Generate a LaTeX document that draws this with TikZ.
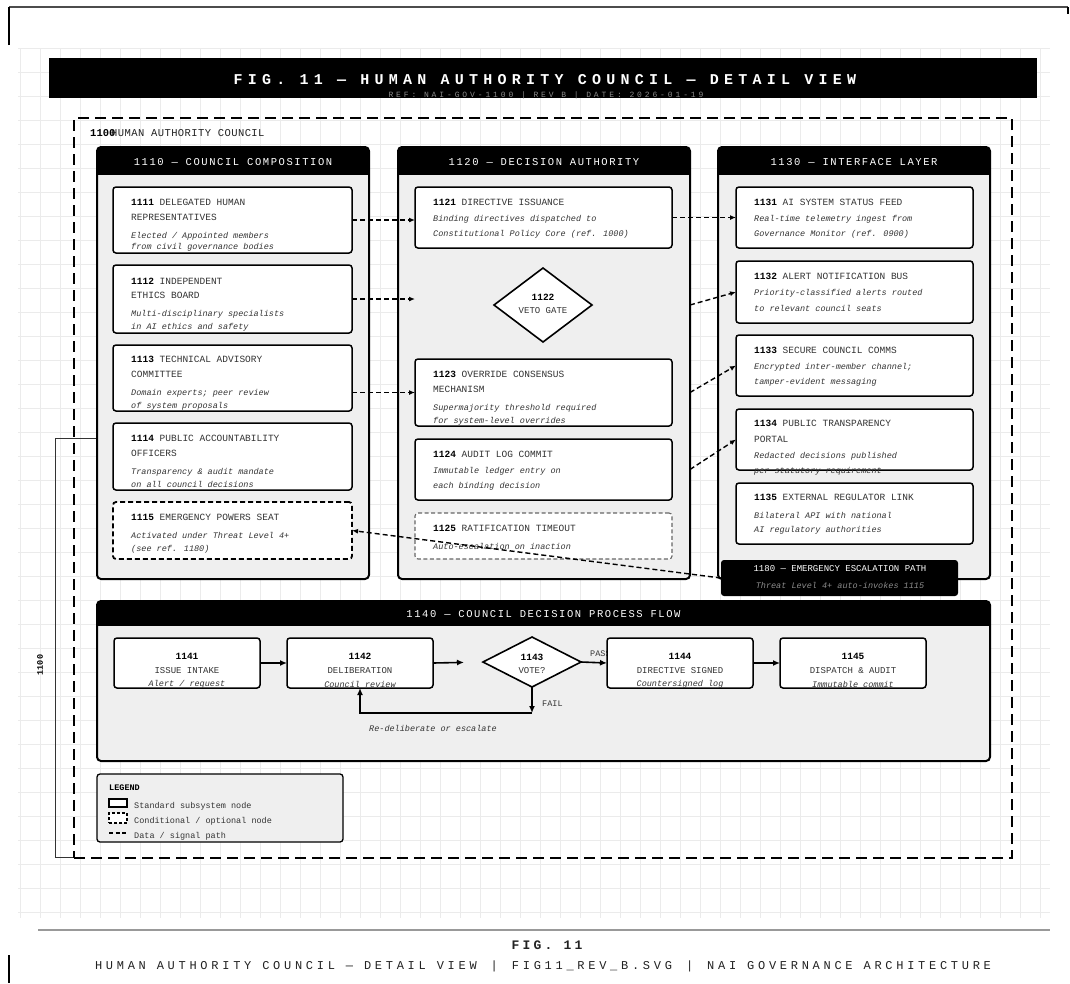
\documentclass[tikz,border=0pt]{standalone}
\usepackage{fontspec}
\setmainfont{Liberation Mono}
\newfontfamily\hdrfont[LetterSpace=15]{Liberation Mono}
\newfontfamily\titlefont[LetterSpace=35]{Liberation Mono}
\newfontfamily\subfont[LetterSpace=36]{Liberation Mono}
\newfontfamily\footfont[LetterSpace=31]{Liberation Mono}
\newfontfamily\figfont[LetterSpace=25]{Liberation Mono}
\newfontfamily\lblfont[LetterSpace=4]{Liberation Mono}
\usetikzlibrary{arrows.meta,shapes.geometric,calc}

\definecolor{panelfill}{HTML}{EFEFEF}
\definecolor{gridc}{HTML}{EBEBEB}
\definecolor{inkA}{HTML}{222222}
\definecolor{inkB}{HTML}{333333}
\definecolor{subgray}{HTML}{8A8A8A}

% box helper: style, name, x1, y1, x2, y2
\newcommand\ubox[6]{\node[#1, minimum width={(#5-#3)*1pt}, minimum height={(#6-#4)*1pt}] (#2) at ({(#3+#5)/2},{(#4+#6)/2}) {};}
% panel helper: name, x1, y1, x2, y2, header bottom, header text
\newcommand\panel[7]{%
  \node[panelbox, minimum width={(#4-#2)*1pt}, minimum height={(#5-#3)*1pt}] (#1) at ({(#2+#4)/2},{(#3+#5)/2}) {};
  \begin{scope}
    \clip[rounded corners=4pt] (#2,#3) rectangle (#4,#5);
    \fill[black] (#2,#3) rectangle (#4,#6);
  \end{scope}
  \draw[line width=2pt, rounded corners=4pt] (#1.north west) rectangle (#1.south east);
  \node[panelhead] (#1h) at ({(#2+#4)/2},{(#3+#6)/2+1}) {#7};
}

\begin{document}
\begin{tikzpicture}[x=1pt,y=-1pt,
  panelbox/.style={fill=panelfill, inner sep=0, outer sep=0, rounded corners=4pt},
  panelhead/.style={text=white, inner sep=0, font=\hdrfont\fontsize{10.5}{12}\selectfont},
  unit/.style={draw=black, fill=white, line width=1.5pt, rounded corners=3pt, inner sep=0, outer sep=0},
  cond/.style={draw=black, fill=white, line width=1.8pt, dash pattern=on 5pt off 3pt, rounded corners=3pt, inner sep=0, outer sep=0},
  condlite/.style={draw=black!60, fill=white, line width=1.1pt, dash pattern=on 4pt off 2.5pt, rounded corners=3pt, inner sep=0, outer sep=0},
  gate/.style={diamond, draw=black, fill=white, line width=1.6pt, inner sep=0, outer sep=0},
  ttl/.style={anchor=west, inner sep=0, text=inkB, font=\fontsize{9.5}{11}\selectfont},
  note/.style={anchor=west, inner sep=0, text=inkB, font=\itshape\fontsize{8.5}{10}\selectfont},
  ctr/.style={inner sep=0, text=inkB, font=\fontsize{9}{11}\selectfont},
  ctrnum/.style={inner sep=0, text=black, font=\bfseries\fontsize{9.5}{11}\selectfont},
  ctrnote/.style={inner sep=0, text=inkB, font=\itshape\fontsize{8.5}{10}\selectfont},
  sig/.style={line width=1.4pt, dash pattern=on 5pt off 3pt, -{Latex[length=6pt,width=5pt]}},
  flow/.style={line width=1.6pt, -{Latex[length=7pt,width=6pt]}},
  gridline/.style={draw=gridc, line width=0.6pt}
]
\useasboundingbox (0,0) rectangle (1070,983);
\fill[white] (0,0) rectangle (1070,983);

% sheet frame remnants
\draw[black!70, line width=2pt] (9,7) -- (1068,7);
\draw[black, line width=2.5pt] (9,45) -- (9,7);
\draw[black, line width=2.5pt] (1068,7) -- (1068,14);
\draw[black, line width=2.5pt] (9,955) -- (9,983);

% drafting grid
\foreach \gx in {20,40,...,1040} \draw[gridline] (\gx,48) -- (\gx,918);
\foreach \gy in {48,72,...,912} \draw[gridline] (18,\gy) -- (1050,\gy);

% title block
\node[fill=black, inner sep=0, minimum width=988pt, minimum height=40pt] (titlebar) at (543,78) {};
\node[text=white, inner sep=0, font=\titlefont\bfseries\fontsize{15}{17}\selectfont] (title) at (545,80) {FIG. 11 — HUMAN AUTHORITY COUNCIL — DETAIL VIEW};
\node[text=subgray, inner sep=0, font=\subfont\fontsize{8}{9}\selectfont] (subtitle) at (546,95) {REF: NAI-GOV-1100 | REV B | DATE: 2026-01-19};

% 1100 enclosure
\node[draw=black, line width=2.8pt, dash pattern=on 11pt off 6pt, inner sep=0, minimum width=938pt, minimum height=740pt] (outer) at (543,488) {};
\node[anchor=west, inner sep=0, font=\bfseries\fontsize{10.5}{12}\selectfont] (outernum) at (90,133) {1100};
\node[anchor=west, inner sep=0, text=inkA, font=\lblfont\fontsize{10.5}{12}\selectfont] (outerlbl) at (111,133) {HUMAN AUTHORITY COUNCIL};

% side bracket
\coordinate (brtop) at (97,438);
\coordinate (brA) at (55,438);
\coordinate (brB) at (55,857);
\draw[black!80, line width=1pt] (brtop) -- (brA) -- (brB) -- (outer.south west |- brB);
\node[rotate=90, inner sep=0, font=\bfseries\fontsize{8.5}{10}\selectfont] (sidelbl) at (40,665) {1100};

% ---- 1110 council composition
\panel{p1110}{97}{147}{369}{579}{175}{1110 — COUNCIL COMPOSITION}
\ubox{unit}{b1111}{113}{187}{352}{253}
\node[ttl] (t1111a) at (131,202) {\textcolor{black}{\bfseries 1111} DELEGATED HUMAN};
\node[ttl] (t1111b) at (131,217) {REPRESENTATIVES};
\node[note] (n1111a) at (131,236) {Elected / Appointed members};
\node[note] (n1111b) at (131,247) {from civil governance bodies};

\ubox{unit}{b1112}{113}{265}{352}{333}
\node[ttl] (t1112a) at (131,281) {\textcolor{black}{\bfseries 1112} INDEPENDENT};
\node[ttl] (t1112b) at (131,295) {ETHICS BOARD};
\node[note] (n1112a) at (131,314) {Multi-disciplinary specialists};
\node[note] (n1112b) at (131,327) {in AI ethics and safety};

\ubox{unit}{b1113}{113}{345}{352}{411}
\node[ttl] (t1113a) at (131,359) {\textcolor{black}{\bfseries 1113} TECHNICAL ADVISORY};
\node[ttl] (t1113b) at (131,374) {COMMITTEE};
\node[note] (n1113a) at (131,393) {Domain experts; peer review};
\node[note] (n1113b) at (131,406) {of system proposals};

\ubox{unit}{b1114}{113}{423}{352}{490}
\node[ttl] (t1114a) at (131,438) {\textcolor{black}{\bfseries 1114} PUBLIC ACCOUNTABILITY};
\node[ttl] (t1114b) at (131,453) {OFFICERS};
\node[note] (n1114a) at (131,472) {Transparency \& audit mandate};
\node[note] (n1114b) at (131,484) {on all council decisions};

\ubox{cond}{b1115}{113}{502}{352}{559}
\node[ttl] (t1115a) at (131,517) {\textcolor{black}{\bfseries 1115} EMERGENCY POWERS SEAT};
\node[note] (n1115a) at (131,535) {Activated under Threat Level 4+};
\node[note] (n1115b) at (131,549) {(see ref. 1180)};

% ---- 1120 decision authority
\panel{p1120}{398}{147}{690}{579}{175}{1120 — DECISION AUTHORITY}
\ubox{unit}{b1121}{415}{187}{672}{248}
\node[ttl] (t1121a) at (433,202) {\textcolor{black}{\bfseries 1121} DIRECTIVE ISSUANCE};
\node[note] (n1121a) at (433,219) {Binding directives dispatched to};
\node[note] (n1121b) at (433,234) {Constitutional Policy Core (ref. 1000)};

\node[gate, minimum width=98pt, minimum height=74pt] (d1122) at (543,305) {};
\node[ctrnum] (t1122a) at (543,297) {1122};
\node[ctr] (t1122b) at (543,311) {VETO GATE};

\ubox{unit}{b1123}{415}{359}{672}{426}
\node[ttl] (t1123a) at (433,374) {\textcolor{black}{\bfseries 1123} OVERRIDE CONSENSUS};
\node[ttl] (t1123b) at (433,389) {MECHANISM};
\node[note] (n1123a) at (433,408) {Supermajority threshold required};
\node[note] (n1123b) at (433,421) {for system-level overrides};

\ubox{unit}{b1124}{415}{439}{672}{500}
\node[ttl] (t1124a) at (433,454) {\textcolor{black}{\bfseries 1124} AUDIT LOG COMMIT};
\node[note] (n1124a) at (433,471) {Immutable ledger entry on};
\node[note] (n1124b) at (433,486) {each binding decision};

\ubox{condlite}{b1125}{415}{513}{672}{559}
\node[ttl] (t1125a) at (433,528) {\textcolor{black}{\bfseries 1125} RATIFICATION TIMEOUT};
\node[note] (n1125a) at (433,546) {Auto-escalation on inaction};

% ---- 1130 interface layer
\panel{p1130}{718}{147}{990}{579}{175}{1130 — INTERFACE LAYER}
\ubox{unit}{b1131}{736}{187}{973}{248}
\node[ttl] (t1131a) at (754,202) {\textcolor{black}{\bfseries 1131} AI SYSTEM STATUS FEED};
\node[note] (n1131a) at (754,219) {Real-time telemetry ingest from};
\node[note] (n1131b) at (754,234) {Governance Monitor (ref. 0900)};

\ubox{unit}{b1132}{736}{261}{973}{323}
\node[ttl] (t1132a) at (754,276) {\textcolor{black}{\bfseries 1132} ALERT NOTIFICATION BUS};
\node[note] (n1132a) at (754,293) {Priority-classified alerts routed};
\node[note] (n1132b) at (754,308) {to relevant council seats};

\ubox{unit}{b1133}{736}{335}{973}{396}
\node[ttl] (t1133a) at (754,350) {\textcolor{black}{\bfseries 1133} SECURE COUNCIL COMMS};
\node[note] (n1133a) at (754,367) {Encrypted inter-member channel;};
\node[note] (n1133b) at (754,382) {tamper-evident messaging};

\ubox{unit}{b1134}{736}{409}{973}{470}
\node[ttl] (t1134a) at (754,423) {\textcolor{black}{\bfseries 1134} PUBLIC TRANSPARENCY};
\node[ttl] (t1134b) at (754,439) {PORTAL};
\node[note] (n1134a) at (754,456) {Redacted decisions published};
\node[note] (n1134b) at (754,471) {per statutory requirement};

\ubox{unit}{b1135}{736}{483}{973}{544}
\node[ttl] (t1135a) at (754,497) {\textcolor{black}{\bfseries 1135} EXTERNAL REGULATOR LINK};
\node[note] (n1135a) at (754,515) {Bilateral API with national};
\node[note] (n1135b) at (754,530) {AI regulatory authorities};

% 1180 escalation tag
\node[fill=black, rounded corners=3pt, inner sep=0, minimum width=237pt, minimum height=36pt] (b1180) at (839.5,578) {};
\node[inner sep=0, text=white, font=\fontsize{9}{11}\selectfont] (t1180a) at (840,569) {1180 — EMERGENCY ESCALATION PATH};
\node[inner sep=0, text=black!45, font=\itshape\fontsize{8.5}{10}\selectfont] (t1180b) at (840,585) {Threat Level 4+ auto-invokes 1115};

% ---- data / signal paths
\draw[sig] (b1111.east) -- (b1121.west |- b1111.east);
\draw[sig, shorten >=79pt] (b1112.east) -- (b1112.east -| d1122.west);
\draw[sig] (b1113.east |- b1123.west) -- (b1123.west);
\draw[sig] (b1121.east) -- (b1131.west);
\draw[sig] (p1120.east |- d1122) -- (b1132.west);
\draw[sig] (p1120.east |- b1123) -- (b1133.west);
\draw[sig] (p1120.east |- b1124) -- (b1134.west);
\draw[sig] (b1180.west) -- (b1115.east);

% ---- 1140 process flow
\panel{p1140}{97}{601}{990}{761}{626}{1140 — COUNCIL DECISION PROCESS FLOW}

\ubox{unit}{b1141}{114}{638}{260}{688}
\node[ctrnum] (t1141a) at (187,656) {1141};
\node[ctr] (t1141b) at (187,671) {ISSUE INTAKE};
\node[ctrnote] (n1141) at (187,684) {Alert / request};

\ubox{unit}{b1142}{287}{638}{433}{688}
\node[ctrnum] (t1142a) at (360,656) {1142};
\node[ctr] (t1142b) at (360,671) {DELIBERATION};
\node[ctrnote] (n1142) at (360,684) {Council review};

\node[gate, minimum width=98pt, minimum height=50pt] (d1143) at (532,662) {};
\node[ctrnum] (t1143a) at (532,657) {1143};
\node[ctr] (t1143b) at (532,671) {VOTE?};

\node[anchor=west, inner sep=0, text=inkB, font=\fontsize{8.5}{10}\selectfont] (pass) at (590,654) {PASS};

\ubox{unit}{b1144}{607}{638}{753}{688}
\node[ctrnum] (t1144a) at (680,656) {1144};
\node[ctr] (t1144b) at (680,671) {DIRECTIVE SIGNED};
\node[ctrnote] (n1144) at (680,684) {Countersigned log};

\ubox{unit}{b1145}{780}{638}{926}{688}
\node[ctrnum] (t1145a) at (853,656) {1145};
\node[ctr] (t1145b) at (853,671) {DISPATCH \& AUDIT};
\node[ctrnote] (n1145) at (853,684) {Immutable commit};

\draw[flow] (b1141.east) -- (b1142.west);
\draw[flow, shorten >=19pt] (b1142.east) -- (d1143.west);
\draw[flow] (d1143.east) -- (b1144.west);
\draw[flow] (b1144.east) -- (b1145.west);
\coordinate (failpt) at (532,713);
\draw[flow] (d1143.south) -- (failpt);
\draw[flow] (failpt) -| (b1142.south);
\node[anchor=west, inner sep=0, text=inkB, font=\fontsize{8.5}{10}\selectfont] (fail) at (542,704) {FAIL};
\node[inner sep=0, text=inkB, font=\itshape\fontsize{8.5}{10}\selectfont] (loopnote) at (433,728) {Re-deliberate or escalate};

% ---- legend
\node[fill=panelfill, draw=black, line width=1.3pt, rounded corners=3pt, inner sep=0, minimum width=246pt, minimum height=68pt] (legend) at (220,808) {};
\node[anchor=west, inner sep=0, font=\bfseries\fontsize{8.5}{10}\selectfont] (legtitle) at (109,788) {LEGEND};
\node[draw=black, fill=white, line width=1.2pt, inner sep=0, minimum width=18pt, minimum height=8pt] (legA) at (118,803) {};
\node[draw=black, fill=white, line width=1.2pt, dash pattern=on 3pt off 2pt, inner sep=0, minimum width=18pt, minimum height=10pt] (legB) at (118,818) {};
\coordinate (legC1) at (109,833);
\coordinate (legC2) at (127,833);
\draw[line width=1.4pt, dash pattern=on 4pt off 2.5pt] (legC1) -- (legC2);
\node[anchor=west, inner sep=0, text=inkB, font=\fontsize{8.5}{10}\selectfont] (legAt) at (134,806) {Standard subsystem node};
\node[anchor=west, inner sep=0, text=inkB, font=\fontsize{8.5}{10}\selectfont] (legBt) at (134,821) {Conditional / optional node};
\node[anchor=west, inner sep=0, text=inkB, font=\fontsize{8.5}{10}\selectfont] (legCt) at (134,836) {Data / signal path};

% ---- footer
\coordinate (ruleL) at (38,930);
\coordinate (ruleR) at (1050,930);
\draw[black!40, line width=2pt] (ruleL) -- (ruleR);
\node[inner sep=0, text=inkA, font=\figfont\bfseries\fontsize{13}{15}\selectfont] (footfig) at (547,945) {FIG. 11};
\node[inner sep=0, text=inkA, font=\footfont\fontsize{12}{14}\selectfont] (footline) at (543,966) {HUMAN AUTHORITY COUNCIL — DETAIL VIEW\hspace{14pt}|\hspace{14pt}FIG11\_REV\_B.SVG\hspace{14pt}|\hspace{14pt}NAI GOVERNANCE ARCHITECTURE};
\end{tikzpicture}
\end{document}
